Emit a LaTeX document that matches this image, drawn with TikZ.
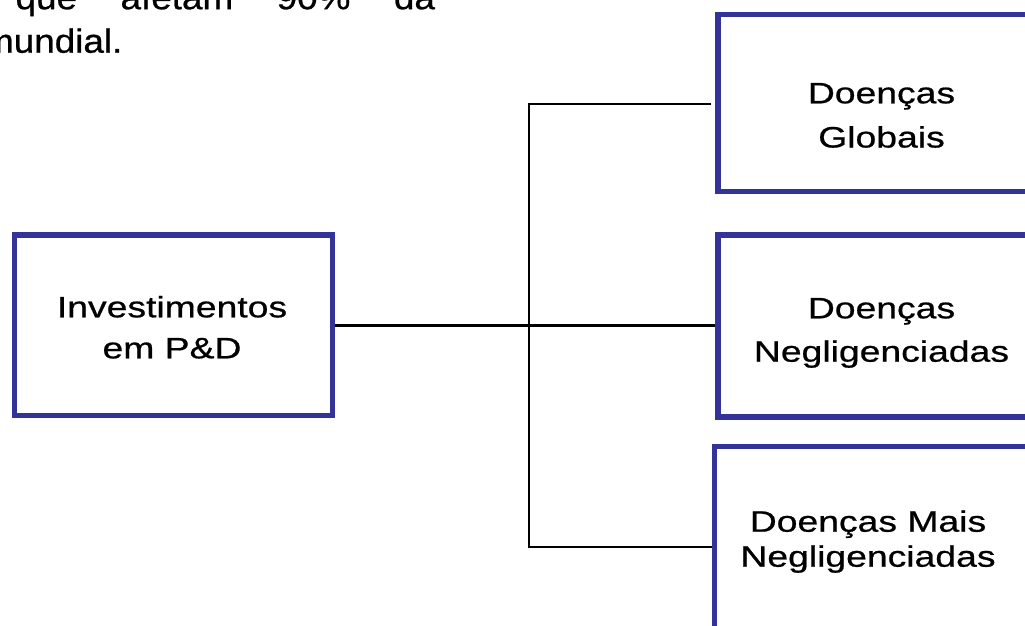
\documentclass[tikz,border=0pt]{standalone}
\usepackage{fontspec}
\setmainfont{Liberation Sans}
\newfontfamily\boxfont{Liberation Sans}[FakeStretch=1.265,FakeBold=0.7]
\newfontfamily\topfont{Liberation Sans}[FakeStretch=1.1,FakeBold=0.7]
\definecolor{boxblue}{RGB}{51,51,153}
\begin{document}
\begin{tikzpicture}[x=1pt,y=-1pt,
  dbox/.style={draw=boxblue, line width=5.5pt, rectangle, inner sep=0pt},
  conn/.style={draw=black, line width=2.6pt},
  lbl/.style={anchor=base, inner sep=0pt},
  toptext/.style={anchor=base west, inner sep=0pt, font=\topfont\fontsize{33.5}{43}\selectfont},
]
\useasboundingbox (0,0) rectangle (1025,626);
\clip (0,0) rectangle (1025,626);

% boxes
\node[dbox, minimum width=318pt, minimum height=180.5pt] (inv) at (173.5,325.3) {};
\node[dbox, minimum width=327pt, minimum height=177pt] (glob) at (881.5,102.9) {};
\node[dbox, minimum width=327pt, minimum height=182pt] (negl) at (881.5,325.8) {};
\node[dbox, minimum width=330.5pt, minimum height=210pt] (mais) at (879.75,551.5) {};

% labels
\node[lbl, font=\boxfont\fontsize{29.5}{41}\selectfont] (tinv) at (172,317.3)
  {\begin{tabular}[t]{@{}c@{}}Investimentos\\em P\&D\end{tabular}};
\node[lbl, font=\boxfont\fontsize{29.5}{44.2}\selectfont] (tglob) at (881.5,103.3)
  {\begin{tabular}[t]{@{}c@{}}Doenças\\Globais\end{tabular}};
\node[lbl, font=\boxfont\fontsize{29.5}{43.4}\selectfont] (tnegl) at (881.5,318.3)
  {\begin{tabular}[t]{@{}c@{}}Doenças\\Negligenciadas\end{tabular}};
\node[lbl, font=\boxfont\fontsize{29.5}{35}\selectfont] (tmais) at (868,531.7)
  {\begin{tabular}[t]{@{}c@{}}Doenças Mais\\Negligenciadas\end{tabular}};

% top text (cut off at the picture's edge)
\node[toptext] (top1) at (15.4,9.2) {que\hspace{43.5pt}afetam\hspace{43.5pt}90\%\hspace{43.5pt}da};
\node[toptext] (top2) at (-17.1,52.7) {mundial.};

% connectors
\coordinate (jt) at (529,104);
\coordinate (jb) at (529,547);
\draw[conn] (inv.east) -- (inv.east -| negl.west);
\draw[conn] ([xshift=-4pt]glob.west |- jt) -- (jt) -- (jb) -- (mais.west |- jb);
\end{tikzpicture}
\end{document}
